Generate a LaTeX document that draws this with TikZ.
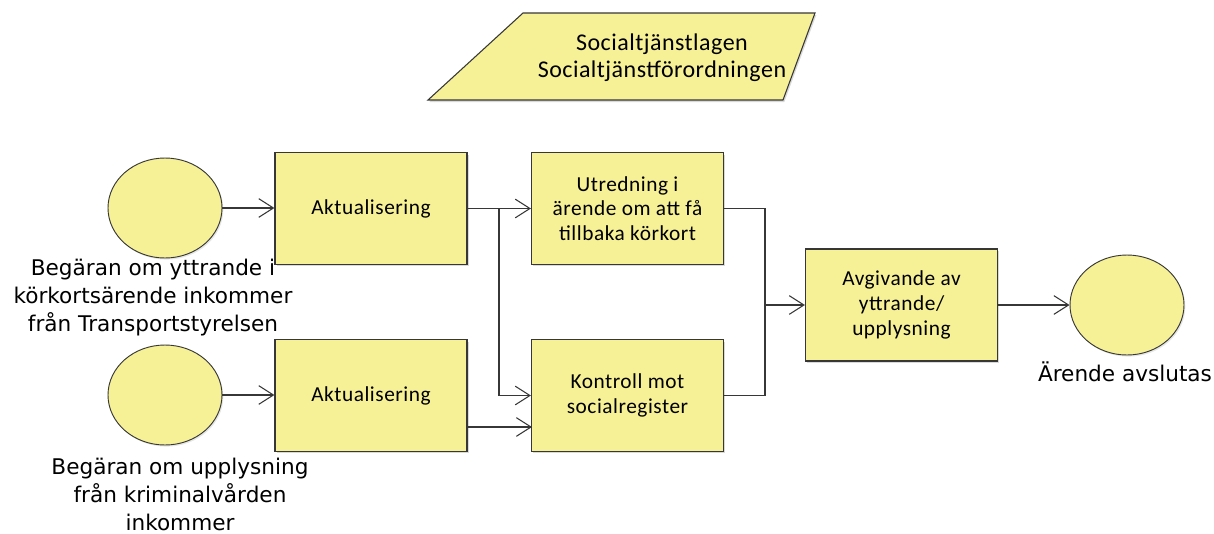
\documentclass[tikz,border=0pt]{standalone}
\usepackage{fontspec}
\setmainfont{Carlito}
\newfontfamily\lblfont{DejaVu Sans}
\usetikzlibrary{arrows.meta,shapes.geometric,shadows}
\definecolor{boxfill}{RGB}{246,240,150}
\definecolor{edge}{RGB}{55,55,55}
\tikzset{
  stepbox/.style={draw=edge, fill=boxfill, line width=0.9pt, align=center,
    font=\addfontfeature{LetterSpace=2.5}\fontsize{16}{18.5}\selectfont,
    minimum width=144pt, minimum height=83.5pt,
    drop shadow={opacity=0.3, shadow xshift=1.2pt, shadow yshift=-1.5pt}},
  event/.style={ellipse, draw=edge, fill=boxfill, line width=0.7pt,
    minimum width=85.5pt, minimum height=75pt, inner sep=0pt,
    drop shadow={opacity=0.2, shadow xshift=1pt, shadow yshift=-1.2pt}},
  lbl/.style={align=center, font=\lblfont\fontsize{16.2}{21}\selectfont, inner sep=0pt},
  flow/.style={draw=edge, line width=0.8pt},
  arr/.style={flow, -{Straight Barb[length=11pt, width=14pt, line width=0.8pt]}}
}
\begin{document}
\begin{tikzpicture}[x=0.75pt, y=-0.75pt]
\useasboundingbox (0,0) rectangle (1214,533);

% legal basis (parallelogram)
\path[draw=edge, fill=boxfill, line width=0.8pt,
  drop shadow={opacity=0.3, shadow xshift=1pt, shadow yshift=-1.5pt}]
  (523,13) -- (815,13) -- (783,100) -- (428,100) -- cycle;
\node[align=center, font=\addfontfeature{LetterSpace=2}\fontsize{18}{20.5}\selectfont] (law) at (662,58)
  {Socialtjänstlagen\\Socialtjänstförordningen};

% start events
\node[event] (c1) at (165,208) {};
\node[event] (c2) at (165,395) {};
\node[lbl] (l1) at (153,298) {Begäran om yttrande i\\körkortsärende inkommer\\från Transportstyrelsen};
\node[lbl] (l2) at (180,494) {Begäran om upplysning\\från kriminalvården\\inkommer};

% process steps
\node[stepbox] (a1) at (371,208.5) {Aktualisering};
\node[stepbox] (a2) at (371,395.5) {Aktualisering};
\node[stepbox] (u) at (627.5,208.5) {Utredning i\\ärende om att få\\tillbaka körkort};
\node[stepbox] (k) at (627.5,395.5) {Kontroll mot\\socialregister};
\node[stepbox, minimum height=84pt] (av) at (901.5,305) {Avgivande av\\yttrande/\\upplysning};

% end event
\node[event] (c3) at (1127,305) {};
\node[lbl] (l3) at (1125,372) {Ärende avslutas};

% connectors
\coordinate (j1) at (499,208.5);
\coordinate (a2out) at (467,427);
\coordinate (kin) at (532,427);
\coordinate (m) at (765,305);

\draw[arr] (c1.east) -- (c1.east -| a1.west);
\draw[arr] (c2.east) -- (c2.east -| a2.west);
\draw[arr] (a1.east) -- (u.west);
\draw[arr] (j1) |- (k.west);
\draw[arr] (a2out) -- (kin);
\draw[flow] (u.east) -| (m);
\draw[flow] (k.east) -| (m);
\draw[arr] (m) -- (av.west);
\draw[arr] (av.east) -- (c3.west);
\end{tikzpicture}
\end{document}
